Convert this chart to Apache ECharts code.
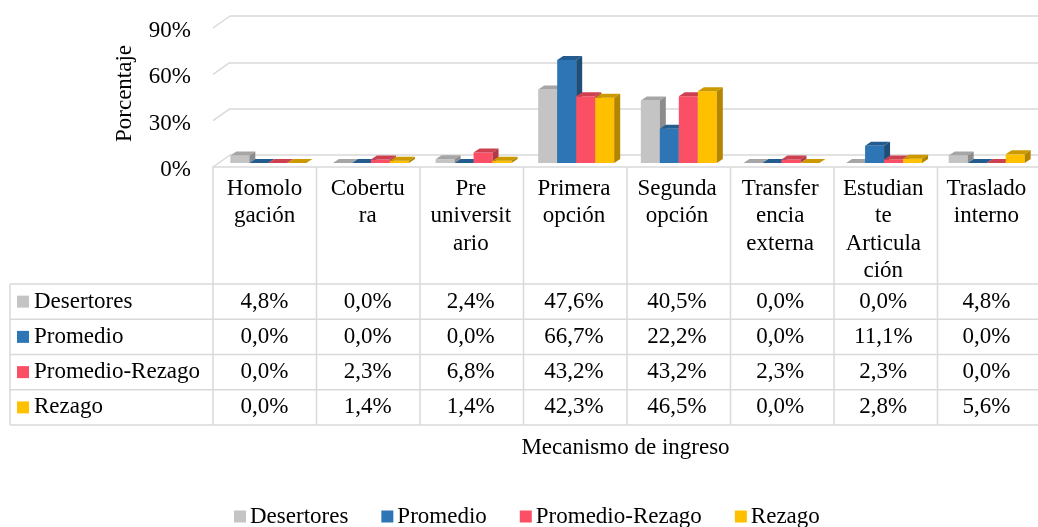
<!doctype html>
<html lang="es">
<head>
<meta charset="UTF-8">
<title>Mecanismo de ingreso</title>
<script src="https://cdn.jsdelivr.net/npm/echarts@6/dist/echarts.min.js"></script>
<style>
  html, body { margin: 0; padding: 0; background: #fff; }
  #main { width: 1038px; height: 527px; }
</style>
</head>
<body>
<div id="main"></div>
<script>
// datos
var categorias = ['Homolo\ngación', 'Cobertu\nra', 'Pre\nuniversit\nario', 'Primera\nopción',
                  'Segunda\nopción', 'Transfer\nencia\nexterna', 'Estudian\nte\nArticula\nción', 'Traslado\ninterno'];
var nombres = ['Desertores', 'Promedio', 'Promedio-Rezago', 'Rezago'];
var desertores     = [4.8, 0.0, 2.4, 47.6, 40.5, 0.0, 0.0, 4.8];
var promedio       = [0.0, 0.0, 0.0, 66.7, 22.2, 0.0, 11.1, 0.0];
var promedioRezago = [0.0, 2.3, 6.8, 43.2, 43.2, 2.3, 2.3, 0.0];
var rezago         = [0.0, 1.4, 1.4, 42.3, 46.5, 0.0, 2.8, 5.6];
var ticksY = [0, 30, 60, 90];

var valores = [desertores, promedio, promedioRezago, rezago];
var colores = ['#c4c4c4', '#2e75b6', '#fb4f65', '#ffc000'];
var topes   = ['#a6a6a6', '#245c8f', '#cc4050', '#cc9a00'];
var lados   = ['#8c8c8c', '#1f4e79', '#b23848', '#b38600'];

var FUENTE = '"Liberation Serif", "Times New Roman", serif';
var FS = 23;
var BW = 19, DX = 6, DY = 4;          // ancho de barra y profundidad
var L = 213, R = 1041;                // plano frontal
var FILA0 = 284, FILA_H = 35.25;      // tabla de datos
var GRIS = '#d9d9d9';

function fmt(v) { return v.toFixed(1).replace('.', ',') + '%'; }

function barra3d(k) {
    return function (params, api) {
        var cat = api.value(0), v = api.value(1);
        var top = api.coord([cat, v]), base = api.coord([cat, 0]);
        var x0 = top[0] + (k - 1.5) * BW - BW / 2, x1 = x0 + BW;
        var yt = top[1], yb = base[1];
        return {
            type: 'group',
            children: [
                { type: 'rect', shape: { x: x0, y: yt, width: BW, height: yb - yt }, style: { fill: colores[k] } },
                { type: 'polygon', shape: { points: [[x0, yt], [x1, yt], [x1 + DX, yt - DY], [x0 + DX, yt - DY]] }, style: { fill: topes[k] } },
                { type: 'polygon', shape: { points: [[x1, yt], [x1 + DX, yt - DY], [x1 + DX, yb - DY], [x1, yb]] }, style: { fill: lados[k] } }
            ]
        };
    };
}

var series = [];
for (var k = 0; k < 4; k++) {
    series.push({
        name: nombres[k],
        type: 'custom',
        xAxisIndex: 1, yAxisIndex: 1,
        itemStyle: { color: colores[k] },
        renderItem: barra3d(k),
        data: valores[k].map(function (v, i) { return [i, v]; }),
        z: 5
    });
}

// diagonales de la pared del fondo
series.push({
    type: 'custom',
    xAxisIndex: 2, yAxisIndex: 2,
    silent: true,
    renderItem: function (params, api) {
        var p = api.coord([0, api.value(1)]);
        return { type: 'line', shape: { x1: p[0], y1: p[1], x2: p[0] - 17, y2: p[1] + 12 },
                 style: { stroke: GRIS, lineWidth: 1.5 } };
    },
    data: ticksY.map(function (t) { return [0, t]; }),
    z: 1
});

// valores de la tabla
var celdas = [];
valores.forEach(function (arr, r) {
    arr.forEach(function (v, i) { celdas.push([i, r, v]); });
});
series.push({
    type: 'custom',
    xAxisIndex: 0, yAxisIndex: 0,
    silent: true,
    clip: false,
    renderItem: function (params, api) {
        var x = api.coord([api.value(0), 0])[0];
        var y = FILA0 + (api.value(1) + 0.5) * FILA_H;
        return { type: 'text', style: { text: fmt(api.value(2)), x: x, y: y, align: 'center', verticalAlign: 'middle',
                 fontSize: FS, fontFamily: FUENTE, fill: '#000' } };
    },
    data: celdas
});

// lineas y rotulos de la tabla
var graficos = [];
for (var h = 0; h <= 4; h++) {
    var yy = FILA0 + h * FILA_H;
    graficos.push({ type: 'line', shape: { x1: 10, y1: yy, x2: R, y2: yy }, style: { stroke: GRIS, lineWidth: 1.5 } });
}
for (var c = 0; c <= categorias.length; c++) {
    var xx = L + c * (R - L) / categorias.length;
    graficos.push({ type: 'line', shape: { x1: xx, y1: 167, x2: xx, y2: FILA0 + 4 * FILA_H }, style: { stroke: GRIS, lineWidth: 1.5 } });
}
graficos.push({ type: 'line', shape: { x1: 10, y1: FILA0, x2: 10, y2: FILA0 + 4 * FILA_H }, style: { stroke: GRIS, lineWidth: 1.5 } });
nombres.forEach(function (n, r) {
    var yc = FILA0 + (r + 0.5) * FILA_H;
    graficos.push({ type: 'rect', shape: { x: 17, y: yc - 6, width: 12, height: 12 }, style: { fill: colores[r] } });
    graficos.push({ type: 'text', style: { text: n, x: 34, y: yc, align: 'left', verticalAlign: 'middle',
                    fontSize: FS, fontFamily: FUENTE, fill: '#000' } });
});

var myChart = echarts.init(document.getElementById('main'));
var option = {
    animation: false,
    textStyle: { fontFamily: FUENTE },
    legend: {
        data: nombres,
        left: 229, top: 500,
        icon: 'rect', itemWidth: 12, itemHeight: 12, itemGap: 33,
        textStyle: { fontSize: FS, fontFamily: FUENTE, color: '#000', padding: [0, 0, 0, -1] }
    },
    grid: [
        { left: L, right: 1038 - R, top: 28, bottom: 527 - 167 },
        { left: L + 4, right: 1038 - R - 4, top: 24, bottom: 527 - 163 },
        { left: 230, right: -20, top: 16, bottom: 527 - 155 },
        { left: L, right: 1038 - R, top: 31, bottom: 527 - 170 }
    ],
    xAxis: [
        { type: 'category', gridIndex: 0, data: categorias,
          name: 'Mecanismo de ingreso', nameLocation: 'middle', nameGap: 269,
          nameTextStyle: { fontSize: FS, fontFamily: FUENTE, color: '#000' },
          axisLine: { lineStyle: { color: GRIS, width: 1.5 } }, axisTick: { show: false },
          axisLabel: { interval: 0, margin: 8, fontSize: FS, lineHeight: 27.5, fontFamily: FUENTE, color: '#000' } },
        { type: 'category', gridIndex: 1, data: categorias, show: false },
        { type: 'value', gridIndex: 2, min: 0, max: 1, show: false },
        { type: 'category', gridIndex: 3, data: categorias, show: false }
    ],
    yAxis: [
        { type: 'value', gridIndex: 0, min: 0, max: 90, interval: 30, show: false },
        { type: 'value', gridIndex: 1, min: 0, max: 90, interval: 30,
          name: 'Porcentaje', nameLocation: 'middle', nameGap: 81, nameRotate: 90,
          nameTextStyle: { fontSize: FS, fontFamily: FUENTE, color: '#000' },
          axisLine: { show: false }, axisTick: { show: false }, splitLine: { show: false }, axisLabel: { show: false } },
        { type: 'value', gridIndex: 2, min: 0, max: 90, interval: 30,
          axisLine: { show: false }, axisTick: { show: false }, axisLabel: { show: false },
          splitLine: { lineStyle: { color: GRIS, width: 1.5 } } },
        { type: 'value', gridIndex: 3, min: 0, max: 90, interval: 30,
          axisLine: { show: false }, axisTick: { show: false }, splitLine: { show: false },
          axisLabel: { formatter: '{value}%', margin: 22, fontSize: FS, fontFamily: FUENTE, color: '#000' } }
    ],
    graphic: graficos,
    series: series
};
myChart.setOption(option);
</script>
</body>
</html>
